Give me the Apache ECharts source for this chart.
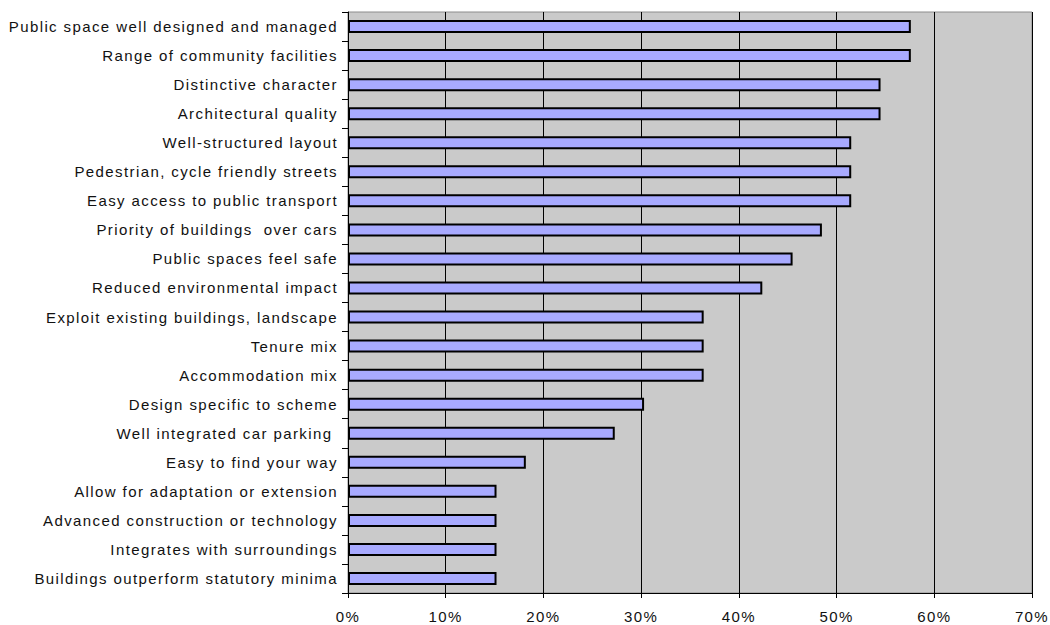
<!DOCTYPE html>
<html>
<head>
<meta charset="utf-8">
<script src="https://cdn.jsdelivr.net/npm/echarts@6/dist/echarts.min.js"></script>
<style>
html,body{margin:0;padding:0;background:#fff;}
#chart{width:1050px;height:625px;}
#chart text{letter-spacing:1.4px;}
</style>
</head>
<body>
<div id="chart"></div>
<script>
const categories = [
  "Public space well designed and managed",
  "Range of community facilities",
  "Distinctive character",
  "Architectural quality",
  "Well-structured layout",
  "Pedestrian, cycle friendly streets",
  "Easy access to public transport",
  "Priority of buildings  over cars",
  "Public spaces feel safe",
  "Reduced environmental impact",
  "Exploit existing buildings, landscape",
  "Tenure mix",
  "Accommodation mix",
  "Design specific to scheme",
  "Well integrated car parking ",
  "Easy to find your way",
  "Allow for adaptation or extension",
  "Advanced construction or technology",
  "Integrates with surroundings",
  "Buildings outperform statutory minima"
];
const values = [57.6, 57.6, 54.5, 54.5, 51.5, 51.5, 51.5, 48.5, 45.5, 42.4, 36.4, 36.4, 36.4, 30.3, 27.3, 18.2, 15.2, 15.2, 15.2, 15.2];
const xTicks = [0, 10, 20, 30, 40, 50, 60, 70];

const chart = echarts.init(document.getElementById('chart'), null, {renderer: 'svg'});
chart.setOption({
  animation: false,
  grid: {left: 348, right: 18, top: 12, bottom: 32, show: true, backgroundColor: '#CACACA', borderColor: '#8C8C8C', borderWidth: 1},
  xAxis: {
    type: 'value', min: xTicks[0], max: xTicks[xTicks.length - 1], interval: 10,
    axisLine: {show: true, lineStyle: {color: '#000', width: 1}},
    axisTick: {show: true, length: 5, lineStyle: {color: '#000'}},
    axisLabel: {formatter: v => v + '%', color: '#111', fontFamily: 'Liberation Sans, Arial, sans-serif', fontSize: 15, margin: 16},
    splitLine: {show: true, lineStyle: {color: '#000', width: 1}}
  },
  yAxis: {
    type: 'category', data: categories, inverse: true,
    axisLine: {show: true, lineStyle: {color: '#000', width: 1}},
    axisTick: {show: true, length: 6, lineStyle: {color: '#000', width: 1}},
    axisLabel: {color: '#111', fontFamily: 'Liberation Sans, Arial, sans-serif', fontSize: 15, margin: 10}
  },
  series: [{
    type: 'bar', data: values, barWidth: 13,
    itemStyle: {color: '#A8AAFF', borderColor: '#000', borderWidth: 2}
  }]
});
</script>
</body>
</html>
